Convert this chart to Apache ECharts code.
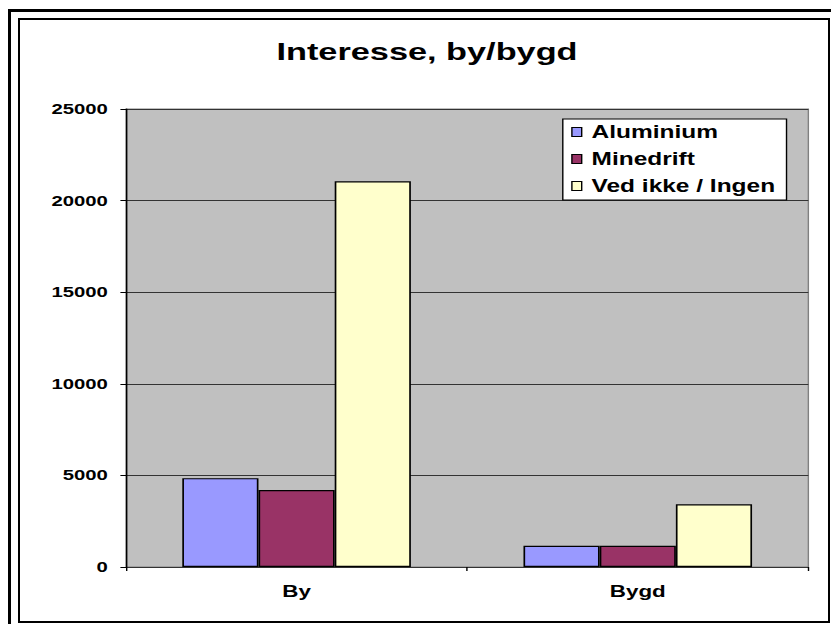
<!DOCTYPE html>
<html>
<head>
<meta charset="utf-8" />
<title>Interesse, by/bygd</title>
<script src="https://cdn.jsdelivr.net/npm/echarts@6.0.0/dist/echarts.min.js"></script>
<style>
  html,
  body {
    margin: 0;
    padding: 0;
    background: #fff;
    width: 831px;
    height: 624px;
    overflow: hidden;
  }
  .outer_frame {
    position: absolute;
    left: 8px;
    top: 9px;
    width: 900px;
    height: 700px;
    border: 3px solid #000;
  }
  .inner_frame {
    position: absolute;
    left: 18px;
    top: 18px;
    width: 808px;
    height: 601px;
    border: 2px solid #000;
    background: #fff;
  }
  /* the original picture is stretched sideways, so the chart is drawn narrow and widened */
  .echartEl_wrap {
    position: absolute;
    left: 0;
    top: 0;
    width: 594px;
    height: 624px;
    transform: scaleX(1.4);
    transform-origin: 0 0;
  }
</style>
</head>
<body>
<div class="outer_frame"></div>
<div class="inner_frame"></div>
<div id="chartEl" class="echartEl_wrap"></div>

<script>
const categories = ["By", "Bygd"];
const seriesNames = ["Aluminium", "Minedrift", "Ved ikke / Ingen"];
const aluminium = [4850, 1160];
const minedrift = [4200, 1160];
const vedIkke = [21050, 3420];
const yTicks = [0, 5000, 10000, 15000, 20000, 25000];

const barColors = ["#9999FF", "#993366", "#FFFFCC"];
const fontFamily = "'Liberation Sans', Arial, sans-serif";

const chartEl = document.getElementById("chartEl");
const myChart = echarts.init(chartEl, null, { renderer: "svg" });

const makeSeries = (name, values, idx) => ({
  name: name,
  type: "bar",
  data: values,
  barGap: "0%",
  barCategoryGap: "33%",
  itemStyle: {
    color: barColors[idx],
    borderColor: "#000",
    borderWidth: 1.2,
  },
  emphasis: { disabled: true },
});

const option = {
  animation: false,
  title: {
    text: "Interesse, by/bygd",
    left: 300,
    top: 34,
    textAlign: "center",
    textStyle: {
      fontFamily: fontFamily,
      fontSize: 24.5,
      fontWeight: "bold",
      color: "#000",
    },
  },
  legend: {
    orient: "vertical",
    left: 402,
    top: 119,
    data: seriesNames,
    backgroundColor: "#fff",
    borderColor: "#000",
    borderWidth: 1,
    borderRadius: 0,
    padding: [4, 8, 5, 6],
    itemWidth: 7,
    itemHeight: 9,
    itemGap: 9,
    icon: "rect",
    itemStyle: { borderColor: "#000", borderWidth: 1 },
    textStyle: {
      fontFamily: fontFamily,
      fontSize: 17.5,
      fontWeight: "bold",
      color: "#000",
      padding: [0, 0, 0, 2],
    },
  },
  grid: {
    show: true,
    left: 90,
    right: 16.6,
    top: 109,
    bottom: 57,
    backgroundColor: "#C0C0C0",
    borderColor: "#808080",
    borderWidth: 1,
  },
  xAxis: {
    type: "category",
    data: categories,
    axisLine: { show: true, lineStyle: { color: "#333", width: 1 } },
    axisTick: {
      show: true,
      alignWithLabel: false,
      length: 4,
      lineStyle: { color: "#000" },
    },
    axisLabel: {
      margin: 16,
      fontFamily: fontFamily,
      fontSize: 16,
      fontWeight: "bold",
      color: "#000",
    },
  },
  yAxis: {
    type: "value",
    min: yTicks[0],
    max: yTicks[yTicks.length - 1],
    interval: yTicks[1] - yTicks[0],
    axisLine: { show: true, lineStyle: { color: "#000", width: 1 } },
    axisTick: { show: true, length: 4, lineStyle: { color: "#000" } },
    splitLine: { show: true, lineStyle: { color: "#333", width: 1 } },
    axisLabel: {
      margin: 13,
      fontFamily: fontFamily,
      fontSize: 14.5,
      fontWeight: "bold",
      color: "#000",
      formatter: (val) => String(val),
    },
  },
  series: [
    makeSeries(seriesNames[0], aluminium, 0),
    makeSeries(seriesNames[1], minedrift, 1),
    makeSeries(seriesNames[2], vedIkke, 2),
  ],
};

option && myChart.setOption(option);
</script>
</body>
</html>
